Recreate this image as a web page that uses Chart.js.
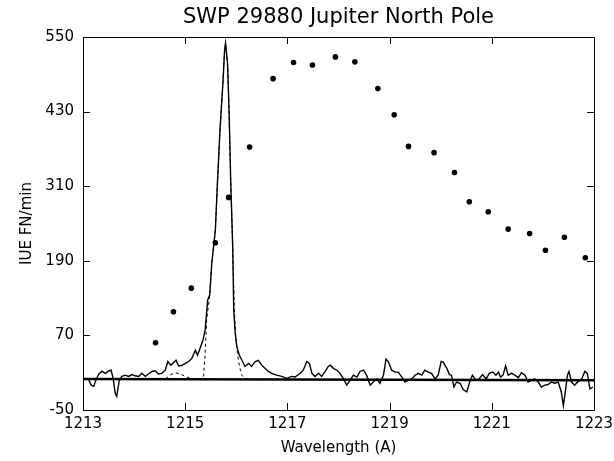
<!DOCTYPE html>
<html>
<head>
<meta charset="utf-8">
<title>SWP 29880 Jupiter North Pole</title>
<script src="https://cdn.jsdelivr.net/npm/chart.js@4.4.1/dist/chart.umd.min.js"></script>
<style>
  html, body { margin: 0; padding: 0; background: #fff; }
  #wrap { width: 614px; height: 461px; }
</style>
</head>
<body>
<div id="wrap"><canvas id="spec" width="614" height="461"></canvas></div>
<script>
// IUE spectrum (solid line)
const specWave = [1213.02, 1213.11, 1213.16, 1213.21, 1213.25, 1213.31, 1213.37, 1213.44, 1213.50, 1213.55,
    1213.59, 1213.63, 1213.66, 1213.71, 1213.76, 1213.83, 1213.89, 1213.96, 1214.02, 1214.09,
    1214.15, 1214.22, 1214.28, 1214.35, 1214.41, 1214.48, 1214.54, 1214.61, 1214.66, 1214.72,
    1214.77, 1214.82, 1214.87, 1214.94, 1215.00, 1215.07, 1215.13, 1215.20, 1215.24, 1215.29,
    1215.35, 1215.39, 1215.44, 1215.48,
    1215.52, 1215.59, 1215.63, 1215.68, 1215.74, 1215.77, 1215.79, 1215.83, 1215.86, 1215.89,
    1215.93, 1215.95, 1215.98,
    1216.01, 1216.06, 1216.11, 1216.17, 1216.24, 1216.30, 1216.37, 1216.43, 1216.50, 1216.56,
    1216.63, 1216.69, 1216.79, 1216.89, 1216.99, 1217.08, 1217.15, 1217.25, 1217.31, 1217.38,
    1217.43, 1217.48, 1217.54, 1217.61, 1217.67, 1217.74, 1217.80,
    1217.84, 1217.90, 1217.97, 1218.03, 1218.10, 1218.16, 1218.23, 1218.29, 1218.36, 1218.42,
    1218.49, 1218.55, 1218.62, 1218.68, 1218.75, 1218.81, 1218.88, 1218.93, 1218.98, 1219.04,
    1219.11, 1219.17, 1219.24, 1219.30, 1219.37, 1219.43, 1219.50, 1219.56, 1219.63, 1219.69,
    1219.76, 1219.82, 1219.89, 1219.95, 1220.01, 1220.05, 1220.12, 1220.17, 1220.21, 1220.26,
    1220.31, 1220.38, 1220.44, 1220.51, 1220.56, 1220.62, 1220.69, 1220.75, 1220.82, 1220.89,
    1220.95, 1221.02, 1221.08, 1221.13, 1221.17, 1221.22, 1221.27, 1221.32, 1221.39, 1221.45,
    1221.52, 1221.58, 1221.65, 1221.71, 1221.78, 1221.84, 1221.91, 1221.97, 1222.04, 1222.10,
    1222.17, 1222.23, 1222.30, 1222.36, 1222.40, 1222.43, 1222.48, 1222.51, 1222.56, 1222.62,
    1222.69, 1222.76, 1222.82, 1222.87, 1222.92, 1222.98];
const specFlux = [0, -1, -10, -12, -2, 8, 12, 9, 13, 14,
    1, -23, -28, -2, 4, 6, 4, 7, 5, 4,
    9, 4, 8, 12, 13, 8, 9, 14, 28, 22,
    26, 30, 21, 22, 25, 28, 33, 46, 38, 49,
    63, 79, 127, 135,
    186, 239, 314, 399, 479, 528, 540, 506, 426, 319,
    212, 110, 73,
    52, 38, 30, 20, 25, 20, 28, 30, 22, 17,
    12, 9, 6, 4, 1, 4, 3, 9, 14, 28,
    25, 9, 4, 9, 4, 12, 20,
    22, 17, 14, 9, 0, -10, -2, 6, 3, 12,
    14, 6, -10, -5, 0, -7, 6, 32, 27, 14,
    11, 11, 3, -5, -2, 0, 6, 9, 6, 14,
    11, 9, 0, 6, 28, 27, 17, 7, 6, -13,
    -5, -7, -17, -21, -7, 6, -2, 0, 7, 0,
    9, 11, 6, 11, 3, 6, 21, 6, 9, 6,
    2, 10, 6, -5, -2, 0, -5, -13, -10, -9,
    -5, -7, -5, -21, -43, -26, 6, 12, -5, -10,
    -4, 0, 12, 9, -16, -13];

// model fit (dashed line)
const fitWave = [1214.62, 1214.70, 1214.80, 1214.90, 1215.00, 1215.10, 1215.20, 1215.33, 1215.36, 1215.39,
    1215.42, 1215.48, 1215.52, 1215.59, 1215.63, 1215.68, 1215.74, 1215.77, 1215.79, 1215.83,
    1215.86, 1215.89, 1215.93, 1215.96, 1215.98, 1216.01, 1216.04, 1216.08, 1216.11, 1216.17, 1216.22];
const fitFlux = [0, 6, 10, 8, 4, 1, 0, 0, 5, 40,
    95, 135, 186, 239, 314, 399, 479, 528, 540, 506,
    426, 319, 212, 115, 79, 50, 30, 14, 6, 1, 0];

// dots
const dotWave = [1214.42, 1214.77, 1215.12, 1215.59, 1215.85, 1216.26, 1216.72, 1217.12, 1217.49, 1217.94,
    1218.32, 1218.77, 1219.09, 1219.37, 1219.87, 1220.27, 1220.56, 1220.93, 1221.32, 1221.74,
    1222.05, 1222.42, 1222.83];
const dotFlux = [58, 108, 146, 219, 292, 373, 483, 509, 505, 518,
    510, 467, 425, 374, 364, 332, 285, 269, 241, 234,
    207, 228, 195];

// zero level
const baseWave = [1213, 1223];
const baseFlux = [0, -2];

const xMin = 1213, xMax = 1223, xStep = 2;
const yMin = -50, yMax = 550, yStep = 120;

const pairs = (xs, ys) => xs.map((x, i) => ({ x: x, y: ys[i] }));

Chart.defaults.font.family = '"DejaVu Sans", "Liberation Sans", sans-serif';
Chart.defaults.color = '#000';

// tick marks pointing into the plot, on all four sides
const innerTicks = {
    id: 'innerTicks',
    afterDraw(chart) {
        const ctx = chart.ctx, a = chart.chartArea, len = 7;
        ctx.save();
        ctx.strokeStyle = '#000';
        ctx.lineWidth = 1;
        Object.values(chart.scales).forEach(s => {
            s.ticks.forEach(t => {
                const p = Math.round(s.getPixelForValue(t.value)) + 0.5;
                ctx.beginPath();
                if (s.position === 'bottom') { ctx.moveTo(p, a.bottom); ctx.lineTo(p, a.bottom - len); }
                if (s.position === 'top')    { ctx.moveTo(p, a.top);    ctx.lineTo(p, a.top + len); }
                if (s.position === 'left')   { ctx.moveTo(a.left, p);   ctx.lineTo(a.left + len, p); }
                if (s.position === 'right')  { ctx.moveTo(a.right, p);  ctx.lineTo(a.right - len, p); }
                ctx.stroke();
            });
        });
        ctx.restore();
    }
};

// fixed box sizes so the plot frame lands where the original is
const fixBox = (w, h) => s => {
    if (w !== null) s.width = w;
    if (h !== null) s.height = h;
    s.paddingLeft = 0; s.paddingRight = 0; s.paddingTop = 0; s.paddingBottom = 0;
};

const axisFont = { size: 15 };
const gridOpts = { display: false, drawTicks: false, tickLength: 0 };
const borderOpts = { display: true, color: '#000', width: 1 };

var ctx = document.getElementById('spec').getContext('2d');
new Chart(ctx, {
    type: 'line',
    data: {
        datasets: [{
            data: pairs(baseWave, baseFlux),
            borderColor: '#000',
            borderWidth: 2.5,
            pointRadius: 0
        }, {
            data: pairs(specWave, specFlux),
            borderColor: '#000',
            borderWidth: 1.4,
            pointRadius: 0,
            tension: 0
        }, {
            data: pairs(fitWave, fitFlux),
            borderColor: '#000',
            borderWidth: 1,
            borderDash: [3, 3],
            pointRadius: 0,
            tension: 0
        }, {
            data: pairs(dotWave, dotFlux),
            showLine: false,
            pointRadius: 2.8,
            pointBackgroundColor: '#000',
            pointBorderColor: '#000',
            pointBorderWidth: 0
        }]
    },
    options: {
        responsive: false,
        animation: false,
        layout: { padding: 0, autoPadding: false },
        plugins: {
            legend: { display: false },
            tooltip: { enabled: false }
        },
        scales: {
            x: {
                type: 'linear',
                position: 'bottom',
                min: xMin, max: xMax,
                ticks: { stepSize: xStep, font: axisFont, padding: 5, maxRotation: 0, callback: v => String(v) },
                grid: gridOpts,
                border: borderOpts,
                title: { display: true, text: 'Wavelength (A)', font: axisFont, padding: { top: 0, bottom: 4 } },
                afterFit: fixBox(null, 51)
            },
            x2: {
                type: 'linear',
                position: 'top',
                min: xMin, max: xMax,
                ticks: { stepSize: xStep, display: false },
                grid: gridOpts,
                border: borderOpts,
                title: { display: true, text: 'SWP 29880 Jupiter North Pole', font: { size: 21 }, padding: { top: 5, bottom: 0 } },
                afterFit: fixBox(null, 37)
            },
            y: {
                type: 'linear',
                position: 'left',
                min: yMin, max: yMax,
                ticks: { stepSize: yStep, font: axisFont, padding: 9, callback: v => String(v) },
                grid: gridOpts,
                border: borderOpts,
                title: { display: true, text: 'IUE FN/min', font: axisFont, padding: { top: 18, bottom: 0 } },
                afterFit: fixBox(83, null)
            },
            y2: {
                type: 'linear',
                position: 'right',
                min: yMin, max: yMax,
                ticks: { stepSize: yStep, display: false },
                grid: gridOpts,
                border: borderOpts,
                afterFit: fixBox(20, null)
            }
        }
    },
    plugins: [innerTicks]
});
</script>
</body>
</html>
